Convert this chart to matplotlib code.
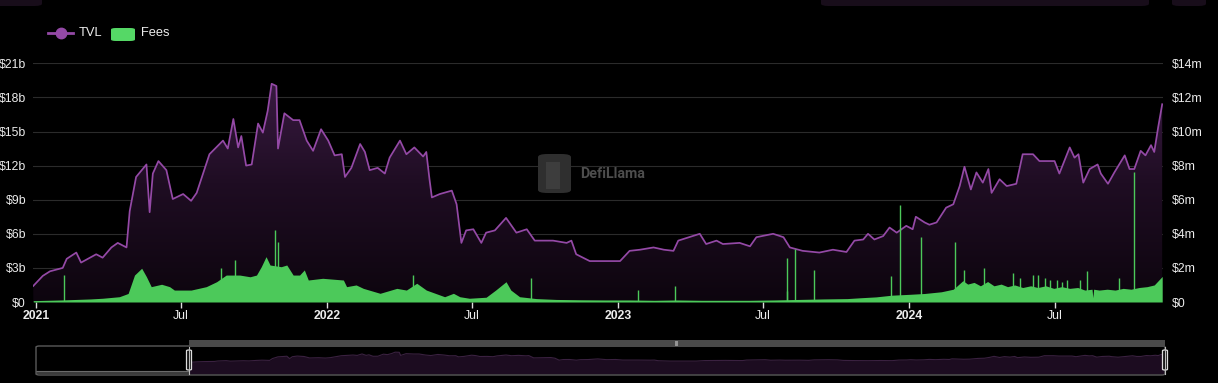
import numpy as np
import pandas as pd
import matplotlib
matplotlib.use("Agg")
import matplotlib.pyplot as plt
import matplotlib.dates as mdates
from matplotlib.patches import FancyBboxPatch, Rectangle
from matplotlib.colors import LinearSegmentedColormap
from matplotlib.lines import Line2D

# ---------------- data ----------------
tvl_dates = [
    "2020-12-28", "2021-01-09", "2021-01-18", "2021-02-03", "2021-02-08", "2021-02-20", "2021-02-26",
    "2021-03-17", "2021-03-25", "2021-04-05", "2021-04-13", "2021-04-24", "2021-04-28", "2021-05-06",
    "2021-05-19", "2021-05-23", "2021-05-27", "2021-06-03", "2021-06-13", "2021-06-21", "2021-07-04",
    "2021-07-14", "2021-07-21", "2021-08-06", "2021-08-23", "2021-08-29", "2021-09-05", "2021-09-11",
    "2021-09-15", "2021-09-21", "2021-09-28", "2021-10-06", "2021-10-12", "2021-10-18", "2021-10-23",
    "2021-10-29", "2021-10-31", "2021-11-08", "2021-11-19", "2021-11-27", "2021-12-06", "2021-12-14",
    "2021-12-24", "2022-01-02", "2022-01-10", "2022-01-19", "2022-01-23", "2022-01-31", "2022-02-11",
    "2022-02-17", "2022-02-23", "2022-03-05", "2022-03-14", "2022-03-20", "2022-04-02", "2022-04-10",
    "2022-04-20", "2022-05-01", "2022-05-05", "2022-05-09", "2022-05-12", "2022-05-22", "2022-06-06",
    "2022-06-12", "2022-06-18", "2022-06-24", "2022-07-03", "2022-07-13", "2022-07-19", "2022-07-30",
    "2022-08-13", "2022-08-26", "2022-09-08", "2022-09-18", "2022-10-11", "2022-10-28", "2022-11-03",
    "2022-11-09", "2022-11-26", "2022-12-13", "2023-01-03", "2023-01-15", "2023-01-28", "2023-02-14",
    "2023-02-27", "2023-03-11", "2023-03-17", "2023-04-13", "2023-04-21", "2023-05-04", "2023-05-12",
    "2023-06-02", "2023-06-15", "2023-06-23", "2023-07-14", "2023-07-27", "2023-08-04", "2023-08-20",
    "2023-09-10", "2023-09-27", "2023-10-14", "2023-10-24", "2023-11-04", "2023-11-10", "2023-11-18",
    "2023-11-29", "2023-12-07", "2023-12-16", "2023-12-28", "2024-01-05", "2024-01-09", "2024-01-20",
    "2024-01-26", "2024-02-04", "2024-02-16", "2024-02-25", "2024-03-04", "2024-03-10", "2024-03-18",
    "2024-03-25", "2024-04-02", "2024-04-09", "2024-04-13", "2024-04-23", "2024-05-02", "2024-05-14",
    "2024-05-22", "2024-06-04", "2024-06-12", "2024-07-01", "2024-07-07", "2024-07-20", "2024-07-26",
    "2024-07-31", "2024-08-06", "2024-08-14", "2024-08-24", "2024-08-28", "2024-09-06", "2024-09-14",
    "2024-09-27", "2024-10-03", "2024-10-09", "2024-10-17", "2024-10-23", "2024-10-30", "2024-11-03",
    "2024-11-08", "2024-11-13",
]
tvl_values = [  # billions USD
    1.41, 2.3, 2.7, 3.0, 3.8, 4.35, 3.47,
    4.2, 3.9, 4.8, 5.2, 4.8, 8.0, 11.0,
    12.1, 7.9, 11.3, 12.4, 11.6, 9.06, 9.5,
    8.9, 9.6, 13.0, 14.2, 13.5, 16.1, 13.6,
    14.6, 12.0, 12.1, 15.7, 14.9, 16.8, 19.2,
    19.0, 13.5, 16.6, 16.0, 16.0, 14.2, 13.3,
    15.2, 14.2, 12.9, 13.0, 11.0, 11.8, 13.9,
    13.2, 11.6, 11.8, 11.3, 12.7, 14.2, 13.0,
    13.6, 12.8, 13.2, 10.8, 9.2, 9.5, 9.8,
    8.6, 5.2, 6.3, 6.4, 5.2, 6.1, 6.3,
    7.4, 6.1, 6.4, 5.4, 5.4, 5.2, 5.4,
    4.2, 3.6, 3.6, 3.6, 4.5, 4.6, 4.8,
    4.6, 4.5, 5.4, 6.0, 5.1, 5.4, 5.1,
    5.2, 4.9, 5.7, 6.0, 5.7, 4.8, 4.5,
    4.35, 4.6, 4.4, 5.4, 5.5, 6.0, 5.5,
    5.8, 6.55, 6.1, 6.7, 6.4, 7.5, 7.0,
    6.8, 7.0, 8.3, 8.6, 10.2, 11.9, 9.9,
    11.4, 10.5, 11.7, 9.6, 10.8, 10.2, 10.4,
    13.0, 13.0, 12.4, 12.4, 11.3, 13.6, 12.7,
    13.0, 10.5, 11.7, 12.1, 11.3, 10.4, 11.4,
    12.9, 11.7, 11.7, 13.3, 12.9, 13.8, 13.2,
    15.4, 17.4,
]

fee_dates = [
    "2020-12-28", "2021-01-15", "2021-02-01", "2021-02-20", "2021-03-10", "2021-03-25", "2021-04-15",
    "2021-04-26", "2021-05-04", "2021-05-13", "2021-05-19", "2021-05-25", "2021-06-07", "2021-06-17",
    "2021-06-23", "2021-07-14", "2021-08-02", "2021-08-15", "2021-08-27", "2021-09-13", "2021-09-26",
    "2021-10-04", "2021-10-10", "2021-10-16", "2021-10-21", "2021-11-04", "2021-11-11", "2021-11-19",
    "2021-11-27", "2021-12-03", "2021-12-08", "2021-12-26", "2022-01-21", "2022-01-25", "2022-02-06",
    "2022-02-15", "2022-03-08", "2022-03-29", "2022-04-10", "2022-04-23", "2022-05-05", "2022-05-28",
    "2022-06-08", "2022-06-16", "2022-06-28", "2022-07-19", "2022-07-31", "2022-08-13", "2022-08-19",
    "2022-08-30", "2022-09-20", "2022-10-15", "2022-11-15", "2022-12-15", "2023-01-15", "2023-02-15",
    "2023-03-15", "2023-04-15", "2023-05-15", "2023-06-15", "2023-07-15", "2023-08-15", "2023-09-15",
    "2023-10-15", "2023-11-01", "2023-11-20", "2023-12-10", "2024-01-01", "2024-01-20", "2024-02-10",
    "2024-02-25", "2024-03-02", "2024-03-08", "2024-03-14", "2024-03-22", "2024-03-30", "2024-04-08",
    "2024-04-16", "2024-04-25", "2024-05-03", "2024-05-12", "2024-05-22", "2024-06-01", "2024-06-10",
    "2024-06-20", "2024-06-30", "2024-07-10", "2024-07-20", "2024-07-30", "2024-08-08", "2024-08-17",
    "2024-08-18", "2024-08-19", "2024-08-26", "2024-09-05", "2024-09-15", "2024-09-25", "2024-10-05",
    "2024-10-15", "2024-10-25", "2024-11-03", "2024-11-08", "2024-11-13",
]
fee_values = [  # millions USD
    0.08, 0.10, 0.12, 0.15, 0.18, 0.22, 0.31,
    0.5, 1.58, 1.98, 1.48, 0.9, 1.04, 0.9,
    0.7, 0.7, 0.9, 1.19, 1.58, 1.58, 1.48,
    1.58, 2.07, 2.66, 2.17, 2.07, 2.17, 1.58,
    1.58, 1.88, 1.29, 1.39, 1.29, 0.9, 1.0,
    0.8, 0.51, 0.8, 0.7, 1.1, 0.7, 0.31,
    0.51, 0.31, 0.22, 0.28, 0.7, 1.19, 0.7,
    0.31, 0.2, 0.15, 0.13, 0.12, 0.12, 0.1,
    0.12, 0.1, 0.1, 0.1, 0.12, 0.15, 0.18,
    0.2, 0.25, 0.3, 0.4, 0.45, 0.5, 0.6,
    0.75, 1.0, 1.25, 1.05, 1.15, 0.95, 1.2,
    0.95, 1.05, 0.9, 1.0, 0.85, 0.95, 0.85,
    0.95, 0.8, 0.9, 0.8, 0.85, 0.7, 0.75,
    0.25, 0.75, 0.7, 0.75, 0.7, 0.8, 0.75,
    0.85, 0.9, 1.0, 1.25, 1.5,
]

spike_dates = [
    "2021-02-05", "2021-08-21", "2021-09-07", "2021-10-27", "2021-10-31", "2022-04-18", "2022-09-13",
    "2023-01-25", "2023-03-13", "2023-07-31", "2023-08-01", "2023-08-11", "2023-09-03", "2023-12-09",
    "2023-12-20", "2024-01-16", "2024-02-27", "2024-03-10", "2024-04-04", "2024-05-10", "2024-05-19",
    "2024-06-04", "2024-06-10", "2024-06-19", "2024-06-25", "2024-07-04", "2024-07-10", "2024-07-17",
    "2024-08-02", "2024-08-11", "2024-09-20", "2024-10-08",
]
spike_values = [
    1.6, 1.98, 2.46, 4.2, 3.5, 1.58, 1.39,
    0.7, 0.95, 0.65, 2.6, 3.1, 1.9, 1.5,
    5.7, 3.8, 3.5, 1.9, 2.0, 1.7, 1.4,
    1.6, 1.6, 1.4, 1.3, 1.3, 1.2, 1.3,
    1.3, 1.8, 1.4, 7.6,
]

left_ticks = [0, 3, 6, 9, 12, 15, 18, 21]
left_labels = ["$0", "$3b", "$6b", "$9b", "$12b", "$15b", "$18b", "$21b"]
right_ticks = [0, 2, 4, 6, 8, 10, 12, 14]
right_labels = ["$0", "$2m", "$4m", "$6m", "$8m", "$10m", "$12m", "$14m"]
x_tick_dates = ["2021-01-01", "2021-07-01", "2022-01-01", "2022-07-01",
                "2023-01-01", "2023-07-01", "2024-01-01", "2024-07-01"]
x_tick_labels = ["2021", "Jul", "2022", "Jul", "2023", "Jul", "2024", "Jul"]

# ---------------- style ----------------
W, H = 1218, 383
FONT = ["Liberation Sans", "DejaVu Sans"]
plt.rcParams["font.family"] = FONT
BG = "#000000"
PURPLE = "#9449a6"
GREEN = "#4cc95a"
TXT = "#ececec"
GRID = "#2b2b2b"

def fx(px):
    return px / W

def fy(py):
    return 1 - py / H

fig = plt.figure(figsize=(W / 100, H / 100), dpi=100, facecolor=BG)

# main axes: x 33..1163, y 63..302
ax = fig.add_axes([fx(33), fy(302), (1163 - 33) / W, (302 - 63.3) / H])
ax.set_facecolor(BG)

tx = mdates.date2num(pd.to_datetime(tvl_dates))
fxd = mdates.date2num(pd.to_datetime(fee_dates))
sx = mdates.date2num(pd.to_datetime(spike_dates))
x0 = mdates.date2num(pd.Timestamp("2021-01-01")) - 4.3
x1 = mdates.date2num(pd.Timestamp("2021-01-01")) + 1413.0

# TVL gradient fill
poly = ax.fill_between(tx, 0, tvl_values, facecolor="none", edgecolor="none")
cmap = LinearSegmentedColormap.from_list("g", ["#0d050e", "#1f0d23", "#3e1d47"])
grad = np.linspace(1, 0, 256).reshape(-1, 1)
im = ax.imshow(grad, cmap=cmap, aspect="auto", extent=[x0, x1, 0, 21],
               origin="upper", zorder=1, interpolation="bicubic")
im.set_clip_path(poly.get_paths()[0], transform=ax.transData)
ax.plot(tx, tvl_values, color=PURPLE, lw=1.25, zorder=3, solid_joinstyle="round")

ax.set_xlim(x0, x1)
ax.set_ylim(0, 21)
ax.set_yticks(left_ticks)
ax.set_yticklabels(left_labels)
ax.grid(axis="y", color=GRID, lw=0.8, zorder=0)
ax.set_axisbelow(True)
for s in ax.spines.values():
    s.set_visible(False)
ax.tick_params(axis="y", length=0, pad=5, labelcolor=TXT, labelsize=8.8)
ax.set_xticks(mdates.date2num(pd.to_datetime(x_tick_dates)))
ax.set_xticklabels(x_tick_labels)
ax.tick_params(axis="x", length=4, width=1, color="#dddddd", pad=2, labelcolor=TXT, labelsize=8.8)
for lab in ax.get_xticklabels():
    if lab.get_text().isdigit():
        lab.set_fontweight("bold")

# Fees on right axis
ax2 = ax.twinx()
ax2.fill_between(fxd, 0, fee_values, color=GREEN, lw=0, zorder=2)
ax2.vlines(sx, 0, spike_values, color=GREEN, lw=1.0, zorder=2)
ax2.set_ylim(0, 14)
ax2.set_xlim(x0, x1)
ax2.set_yticks(right_ticks)
ax2.set_yticklabels(right_labels)
ax2.tick_params(axis="y", length=0, pad=6.5, labelcolor=TXT, labelsize=8.8)
for s in ax2.spines.values():
    s.set_visible(False)

# ---------------- legend ----------------
fig.add_artist(Line2D([fx(48), fx(73)], [fy(33), fy(33)], color=PURPLE, lw=2,
                      transform=fig.transFigure))
fig.add_artist(Line2D([fx(61)], [fy(33)], marker="o", markersize=7.5, color=PURPLE,
                      transform=fig.transFigure))
fig.text(fx(79), fy(33.5), "TVL", color=TXT, fontsize=9.3, va="center", ha="left")
fig.add_artist(FancyBboxPatch((fx(111), fy(41)), fx(24), 13 / H,
                              boxstyle="round,pad=0,rounding_size=0.004",
                              transform=fig.transFigure, facecolor="#55d866", edgecolor="none"))
fig.text(fx(141), fy(33.5), "Fees", color=TXT, fontsize=9.3, va="center", ha="left")

# ---------------- watermark ----------------
fig.add_artist(FancyBboxPatch((fx(538), fy(193)), fx(33), 39 / H,
                              boxstyle="round,pad=0,rounding_size=0.008",
                              transform=fig.transFigure, facecolor="#2f2f2f",
                              edgecolor="none", zorder=5))
fig.add_artist(Rectangle((fx(546), fy(189)), fx(14), 27 / H, transform=fig.transFigure,
                         facecolor="#3d3d3d", edgecolor="none", zorder=6))
fig.text(fx(580), fy(174), "DefiLlama", color="#4d4d4d", fontsize=10.3,
         fontweight="bold", va="center", ha="left", family=["Roboto", "DejaVu Sans"], zorder=6)

# ---------------- top UI remnants ----------------
for (a, b) in [(-10, 42), (821, 1149), (1172, 1206)]:
    fig.add_artist(FancyBboxPatch((fx(a), fy(6)), fx(b - a), 16 / H,
                                  boxstyle="round,pad=0,rounding_size=0.006",
                                  transform=fig.transFigure, facecolor="#180d1a",
                                  edgecolor="none"))

# ---------------- overview slider ----------------
sax = fig.add_axes([fx(36), fy(374), fx(1129), 28 / H])
sax.set_facecolor(BG)
for s in sax.spines.values():
    s.set_visible(False)
sax.set_xticks([])
sax.set_yticks([])
pre_span = 222
sax.set_xlim(tx[0] - pre_span, tx[-1])
sax.set_ylim(-19, 30)
sax.fill_between(tx, -19, tvl_values, color="#1c0c20", lw=0)
sax.plot(tx, tvl_values, color="#3a2140", lw=0.8)
sax.fill_between([tx[0] - pre_span, tx[0]], -19, -13, color="#3a3a3a", lw=0)
sax.plot([tx[0] - pre_span, tx[0]], [-13, -13], color="#6a6a6a", lw=0.8)

fig.add_artist(FancyBboxPatch((fx(36), fy(375)), fx(1129), 29 / H,
                              boxstyle="round,pad=0,rounding_size=0.003",
                              transform=fig.transFigure, facecolor="none",
                              edgecolor="#5a5a5a", lw=1))
fig.add_artist(Rectangle((fx(189), fy(347)), fx(976), 7 / H, transform=fig.transFigure,
                         facecolor="#4a4a4a", edgecolor="none"))
fig.text(fx(677), fy(343.5), "|||", color="#dddddd", fontsize=4, va="center", ha="center")
for hx in (189, 1165):
    fig.add_artist(FancyBboxPatch((fx(hx - 2.5), fy(370)), fx(5), 20 / H,
                                  boxstyle="round,pad=0,rounding_size=0.002",
                                  transform=fig.transFigure, facecolor="#111111",
                                  edgecolor="#dddddd", lw=0.9))
    fig.add_artist(Line2D([fx(hx), fx(hx)], [fy(347), fy(374)], color="#bbbbbb", lw=0.8,
                          transform=fig.transFigure))

fig.savefig("out.png", dpi=100, facecolor=BG)
